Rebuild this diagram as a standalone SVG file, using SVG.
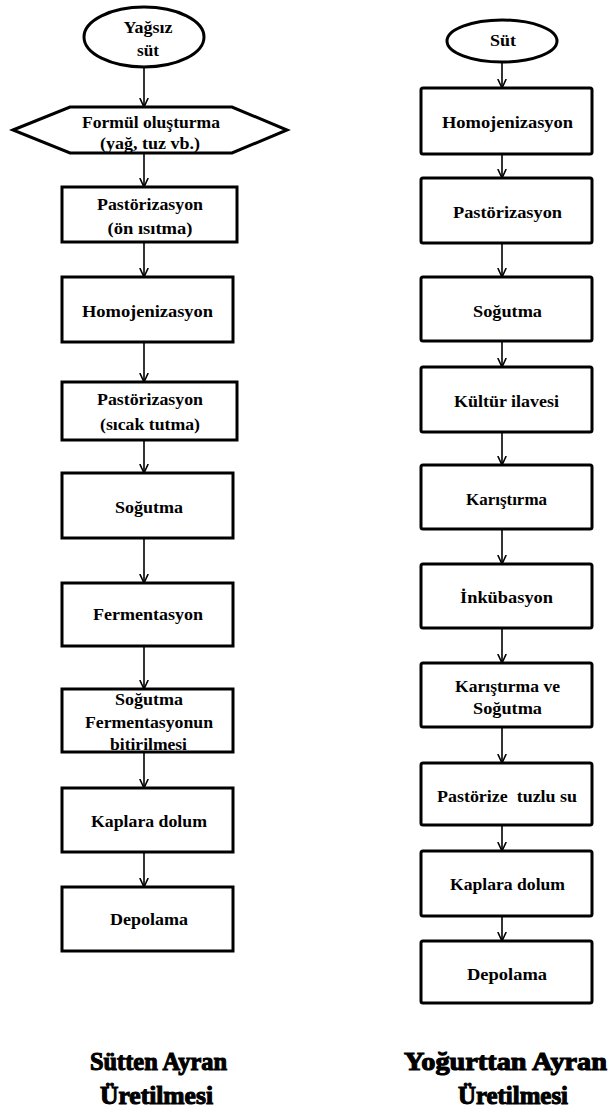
<svg xmlns="http://www.w3.org/2000/svg" width="610" height="1109" viewBox="0 0 610 1109">
<style>
.n{fill:#fff;stroke:#000;stroke-width:3}
.t{font-family:"Liberation Serif","Times New Roman",serif;font-size:17px;font-weight:bold;fill:#000;text-anchor:middle}
.h{font-family:"Liberation Serif","Times New Roman",serif;font-size:26px;font-weight:900;fill:#000;stroke:#000;stroke-width:1.1;text-anchor:middle}
.c{stroke:#000;stroke-width:1.6;fill:none}
</style>
<defs>
<marker id="ah" viewBox="0 0 10 10" refX="9.5" refY="5" markerWidth="10" markerHeight="10" markerUnits="userSpaceOnUse" orient="auto">
<path d="M0.5,0.8 L9.5,5 L0.5,9.2" fill="none" stroke="#000" stroke-width="1.6"/>
</marker>
</defs>
<rect width="610" height="1109" fill="#fff"/>
<g id="connectors">
<line class="c" x1="144" y1="67" x2="144" y2="107" marker-end="url(#ah)"/>
<line class="c" x1="144" y1="153" x2="144" y2="187" marker-end="url(#ah)"/>
<line class="c" x1="144" y1="242" x2="144" y2="277" marker-end="url(#ah)"/>
<line class="c" x1="144" y1="342" x2="144" y2="382" marker-end="url(#ah)"/>
<line class="c" x1="144" y1="440" x2="144" y2="473" marker-end="url(#ah)"/>
<line class="c" x1="144" y1="538" x2="144" y2="583" marker-end="url(#ah)"/>
<line class="c" x1="144" y1="646" x2="144" y2="689" marker-end="url(#ah)"/>
<line class="c" x1="144" y1="752" x2="144" y2="788" marker-end="url(#ah)"/>
<line class="c" x1="144" y1="852" x2="144" y2="887" marker-end="url(#ah)"/>
<line class="c" x1="502" y1="62" x2="502" y2="88" marker-end="url(#ah)"/>
<line class="c" x1="502" y1="154" x2="502" y2="178" marker-end="url(#ah)"/>
<line class="c" x1="502" y1="243" x2="502" y2="277" marker-end="url(#ah)"/>
<line class="c" x1="502" y1="341" x2="502" y2="367" marker-end="url(#ah)"/>
<line class="c" x1="502" y1="432" x2="502" y2="465" marker-end="url(#ah)"/>
<line class="c" x1="502" y1="529" x2="502" y2="564" marker-end="url(#ah)"/>
<line class="c" x1="502" y1="628" x2="502" y2="663" marker-end="url(#ah)"/>
<line class="c" x1="502" y1="727" x2="502" y2="763" marker-end="url(#ah)"/>
<line class="c" x1="502" y1="825" x2="502" y2="851" marker-end="url(#ah)"/>
<line class="c" x1="502" y1="916" x2="502" y2="941" marker-end="url(#ah)"/>
</g>
<!-- Left column -->
<g id="L0"><ellipse class="n" cx="144" cy="37" rx="60" ry="30" stroke-width="2.5"/>
<text class="t" x="148" y="33" textLength="49" lengthAdjust="spacingAndGlyphs">Yağsız</text>
<text class="t" x="148" y="56" textLength="22" lengthAdjust="spacingAndGlyphs">süt</text></g>
<g id="L1"><polygon class="n" points="13,130 70,107 232,107 287,130 232,153 70,153"/>
<text class="t" x="151" y="128" textLength="138" lengthAdjust="spacingAndGlyphs">Formül oluşturma</text>
<text class="t" x="150" y="149" textLength="100" lengthAdjust="spacingAndGlyphs">(yağ, tuz vb.)</text></g>
<g id="L2"><rect class="n" x="62" y="187" width="175" height="55"/>
<text class="t" x="150" y="210" textLength="106" lengthAdjust="spacingAndGlyphs">Pastörizasyon</text>
<text class="t" x="150" y="234" textLength="85" lengthAdjust="spacingAndGlyphs">(ön ısıtma)</text></g>
<g id="L3"><rect class="n" x="62" y="277" width="171" height="65"/>
<text class="t" x="147.5" y="317" textLength="131" lengthAdjust="spacingAndGlyphs">Homojenizasyon</text></g>
<g id="L4"><rect class="n" x="62" y="382" width="175" height="58"/>
<text class="t" x="150" y="405" textLength="106" lengthAdjust="spacingAndGlyphs">Pastörizasyon</text>
<text class="t" x="150" y="430" textLength="100" lengthAdjust="spacingAndGlyphs">(sıcak tutma)</text></g>
<g id="L5"><rect class="n" x="62" y="473" width="171" height="65"/>
<text class="t" x="149" y="513" textLength="68" lengthAdjust="spacingAndGlyphs">Soğutma</text></g>
<g id="L6"><rect class="n" x="62" y="583" width="171" height="63"/>
<text class="t" x="148" y="620" textLength="110" lengthAdjust="spacingAndGlyphs">Fermentasyon</text></g>
<g id="L7"><rect class="n" x="62" y="689" width="171" height="63"/>
<text class="t" x="149" y="705" textLength="68" lengthAdjust="spacingAndGlyphs">Soğutma</text>
<text class="t" x="149" y="728" textLength="128" lengthAdjust="spacingAndGlyphs">Fermentasyonun</text>
<text class="t" x="148.5" y="750" textLength="77" lengthAdjust="spacingAndGlyphs">bitirilmesi</text></g>
<g id="L8"><rect class="n" x="62" y="788" width="171" height="64"/>
<text class="t" x="149" y="827" textLength="116" lengthAdjust="spacingAndGlyphs">Kaplara dolum</text></g>
<g id="L9"><rect class="n" x="62" y="887" width="171" height="64"/>
<text class="t" x="149" y="925" textLength="78" lengthAdjust="spacingAndGlyphs">Depolama</text></g>
<!-- Right column -->
<g id="R0"><ellipse class="n" cx="502" cy="41" rx="55" ry="21" stroke-width="2.5"/>
<text class="t" x="503" y="46" textLength="26" lengthAdjust="spacingAndGlyphs">Süt</text></g>
<g id="R1"><rect class="n" x="421" y="88" width="171" height="66" rx="2"/>
<text class="t" x="507.5" y="128" textLength="131" lengthAdjust="spacingAndGlyphs">Homojenizasyon</text></g>
<g id="R2"><rect class="n" x="421" y="178" width="171" height="65" rx="2"/>
<text class="t" x="507.5" y="218" textLength="109" lengthAdjust="spacingAndGlyphs">Pastörizasyon</text></g>
<g id="R3"><rect class="n" x="421" y="277" width="171" height="64" rx="2"/>
<text class="t" x="507.5" y="317" textLength="69" lengthAdjust="spacingAndGlyphs">Soğutma</text></g>
<g id="R4"><rect class="n" x="421" y="367" width="171" height="65" rx="2"/>
<text class="t" x="506.5" y="407" textLength="105" lengthAdjust="spacingAndGlyphs">Kültür ilavesi</text></g>
<g id="R5"><rect class="n" x="421" y="465" width="171" height="64" rx="2"/>
<text class="t" x="506.5" y="505" textLength="81" lengthAdjust="spacingAndGlyphs">Karıştırma</text></g>
<g id="R6"><rect class="n" x="421" y="564" width="171" height="64" rx="2"/>
<text class="t" x="506.5" y="603" textLength="93" lengthAdjust="spacingAndGlyphs">İnkübasyon</text></g>
<g id="R7"><rect class="n" x="421" y="663" width="171" height="64" rx="2"/>
<text class="t" x="507.5" y="692" textLength="105" lengthAdjust="spacingAndGlyphs">Karıştırma ve</text>
<text class="t" x="507.5" y="714" textLength="69" lengthAdjust="spacingAndGlyphs">Soğutma</text></g>
<g id="R8"><rect class="n" x="421" y="763" width="171" height="62" rx="2"/>
<text class="t" x="507" y="802" textLength="140" lengthAdjust="spacingAndGlyphs" xml:space="preserve">Pastörize  tuzlu su</text></g>
<g id="R9"><rect class="n" x="421" y="851" width="171" height="65" rx="2"/>
<text class="t" x="507.5" y="890" textLength="115" lengthAdjust="spacingAndGlyphs">Kaplara dolum</text></g>
<g id="R10"><rect class="n" x="421" y="941" width="171" height="62" rx="2"/>
<text class="t" x="507" y="980" textLength="80" lengthAdjust="spacingAndGlyphs">Depolama</text></g>
<!-- Titles -->
<g id="title-left">
<text class="h" x="158.5" y="1070" textLength="137" lengthAdjust="spacingAndGlyphs">Sütten Ayran</text>
<text class="h" x="156.5" y="1104" textLength="113" lengthAdjust="spacingAndGlyphs">Üretilmesi</text></g>
<g id="title-right">
<text class="h" x="505.5" y="1070" textLength="203" lengthAdjust="spacingAndGlyphs">Yoğurttan Ayran</text>
<text class="h" x="513" y="1104" textLength="110" lengthAdjust="spacingAndGlyphs">Üretilmesi</text></g>
</svg>
